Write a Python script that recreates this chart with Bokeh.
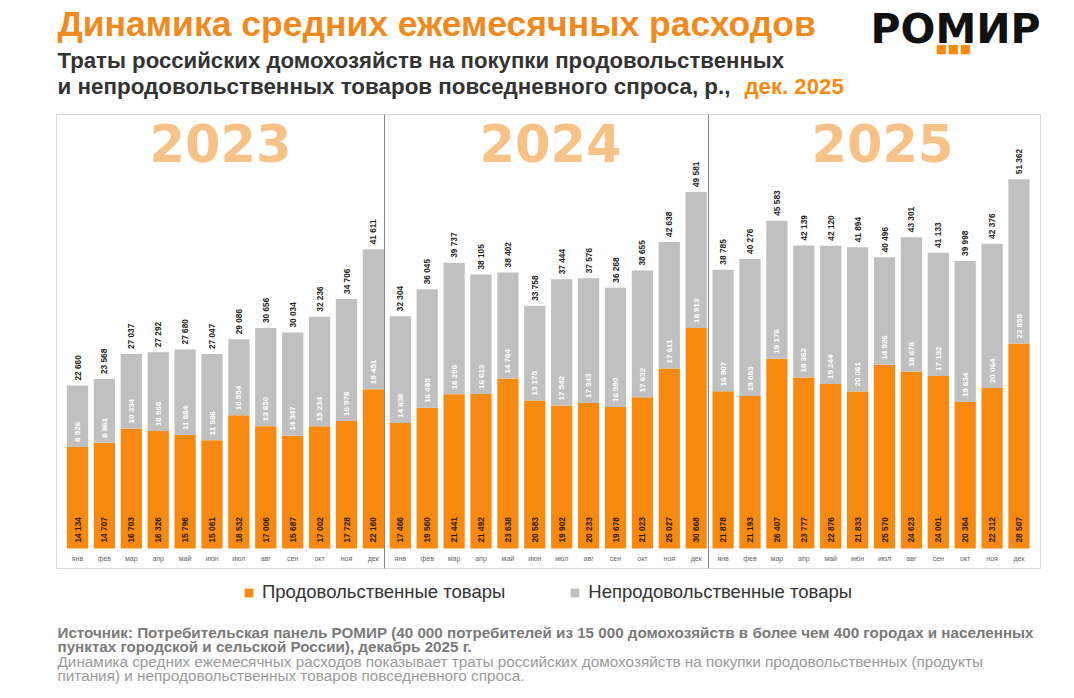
import math
from bokeh.plotting import figure
from bokeh.models import Range1d, Label, Legend, LegendItem, ColumnDataSource, BoxAnnotation
from bokeh.embed import file_html
from bokeh.resources import INLINE
from bokeh.core.properties import value

# ---------------- data ----------------
months = ["янв", "фев", "мар", "апр", "май", "июн", "июл", "авг", "сен", "окт", "ноя", "дек"]
years = ["2023", "2024", "2025"]

food_2023 = [14134, 14707, 16703, 16326, 15796, 15061, 18532, 17006, 15687, 17002, 17728, 22160]
nonfood_2023 = [8526, 8861, 10334, 10966, 11884, 11986, 10554, 13650, 14347, 15234, 16978, 19451]

food_2024 = [17466, 19560, 21441, 21492, 23638, 20583, 19902, 20233, 19678, 21023, 25027, 30668]
nonfood_2024 = [14838, 16485, 18296, 16613, 14764, 13175, 17542, 17343, 16590, 17632, 17611, 18913]

food_2025 = [21878, 21193, 26407, 23777, 22876, 21833, 25570, 24623, 24001, 20364, 22312, 28507]
nonfood_2025 = [16907, 19083, 19176, 18362, 19244, 20061, 14926, 18678, 17132, 19634, 20064, 22855]

series_names = ["Продовольственные товары", "Непродовольственные товары"]

title_text = "Динамика средних ежемесячных расходов"
subtitle_1 = "Траты российских домохозяйств на покупки продовольственных"
subtitle_2 = "и непродовольственных товаров повседневного спроса, р.,"
subtitle_date = "дек. 2025"
footer_1 = "Источник: Потребительская панель РОМИР (40 000 потребителей из 15 000 домохозяйств в более чем 400 городах и населенных"
footer_2 = "пунктах городской и сельской России), декабрь 2025 г."
footer_3 = "Динамика средних ежемесячных расходов показывает траты российских домохозяйств на покупки продовольственных (продукты"
footer_4 = "питания) и непродовольственных товаров повседневного спроса."

# ---------------- style / layout ----------------
ORANGE = "#F88A12"
GRAY = "#C0C0C0"
BOX = "#8a8a8a"
FONT = "Liberation Sans"
W, H = 1074, 698

# pixel geometry of the chart (canvas px)
X0_PX, PITCH_PX = 77.0, 26.9       # first bar centre, bar spacing
BASE_PX, PX_PER_UNIT = 548.0, 0.00719  # zero line, px per rouble
BOX_L, BOX_R, BOX_T, BOX_B = 56, 1040, 114, 568


def xd(px):
    return (px - X0_PX) / PITCH_PX


def yd(py):
    return (BASE_PX - py) / PX_PER_UNIT


food = food_2023 + food_2024 + food_2025
nonfood = nonfood_2023 + nonfood_2024 + nonfood_2025
total = [f + n for f, n in zip(food, nonfood)]
xs = list(range(len(food)))


def fmt(v):
    return f"{v:,}".replace(",", " ")


src = ColumnDataSource(dict(
    x=xs, food=food, nonfood=nonfood, total=total,
    month=months * len(years),
    food_lbl=[fmt(v) for v in food],
    nonfood_lbl=[fmt(v) for v in nonfood],
    total_lbl=[fmt(v) for v in total],
))

p = figure(width=W, height=H, x_range=Range1d(xd(0), xd(W)), y_range=Range1d(yd(H), yd(0)),
           output_backend="svg", toolbar_location=None,
           x_axis_location=None, y_axis_location=None,
           min_border=0, min_border_left=0, min_border_right=0,
           min_border_top=0, min_border_bottom=0)
p.grid.visible = False
p.outline_line_color = None
p.background_fill_color = "white"
p.border_fill_color = "white"

# chart box and year dividers
p.add_layout(BoxAnnotation(left=xd(BOX_L), right=xd(BOX_R), bottom=yd(BOX_B), top=yd(BOX_T),
                           fill_alpha=0, line_color=BOX, line_width=1))
for dpx in (384, 708):
    p.segment(x0=xd(dpx), x1=xd(dpx), y0=yd(BOX_B), y1=yd(BOX_T), line_color=BOX, line_width=1)

year_px = [220, 550, 882]
for ypx, yr in zip(year_px, years):
    p.add_layout(Label(x=xd(ypx), y=yd(142), text=yr, text_align="center", text_baseline="middle",
                       text_font="DejaVu Sans", text_font_style="bold", text_font_size="51px",
                       text_color="#F7C287"))

bars = p.vbar_stack(["food", "nonfood"], x="x", width=0.79, source=src,
                    color=[ORANGE, GRAY], line_color=None)

p.text(x="x", y="total", text="total_lbl", source=src, angle=math.pi / 2,
       text_align="left", text_baseline="middle", y_offset=-5,
       text_font=value(FONT), text_font_style="bold", text_font_size="8.3px", text_color="#222222")
p.text(x="x", y="food", text="nonfood_lbl", source=src, angle=math.pi / 2,
       text_align="left", text_baseline="middle", y_offset=-5,
       text_font=value(FONT), text_font_style="bold", text_font_size="8px", text_color="#ffffff")
p.text(x="x", y=0, text="food_lbl", source=src, angle=math.pi / 2,
       text_align="left", text_baseline="middle", y_offset=-6,
       text_font=value(FONT), text_font_style="bold", text_font_size="8.3px", text_color="#2a1a05")
p.text(x="x", y=0, text="month", source=src,
       text_align="center", text_baseline="middle", y_offset=10,
       text_font=value(FONT), text_font_size="7px", text_color="#666666")

legend = Legend(items=[LegendItem(label=series_names[0], renderers=[bars[0]]),
                       LegendItem(label=series_names[1], renderers=[bars[1]])],
                orientation="horizontal", location=(243, H - 603),
                glyph_width=11, glyph_height=11, label_height=18, label_standoff=8,
                spacing=64, padding=0, margin=0,
                label_text_font=FONT, label_text_font_size="18.5px", label_text_color="#333333",
                border_line_color=None, background_fill_alpha=0)
p.add_layout(legend)


def lab(text, cx, cy, size, color, bold=False, align="left", baseline="middle", font=FONT):
    p.add_layout(Label(x=cx, y=H - cy, x_units="screen", y_units="screen", text=text,
                       text_font=font, text_font_size=f"{size}px", text_color=color,
                       text_font_style="bold" if bold else "normal",
                       text_align=align, text_baseline=baseline))


lab(title_text, 57, 23, 35.5, "#F08A1E", bold=True)
lab(subtitle_1, 57, 60, 22.2, "#333333", bold=True)
lab(subtitle_2, 57, 86, 22.4, "#333333", bold=True)
lab(subtitle_date, 744, 86, 22.2, ORANGE, bold=True)

lab("РОМИР", 870, 28, 41, "#111111", bold=True, font="DejaVu Sans")
for sx in (941, 953, 965):
    lab("■", sx, 48, 12, ORANGE, align="center", font="DejaVu Sans")

lab(footer_1, 57, 632, 15.2, "#7a7a7a", bold=True)
lab(footer_2, 57, 646, 15.2, "#7a7a7a", bold=True)
lab(footer_3, 57, 661, 15.3, "#9a9a9a")
lab(footer_4, 57, 675, 15.3, "#9a9a9a")

open("out.html", "w").write(file_html(p, INLINE))
